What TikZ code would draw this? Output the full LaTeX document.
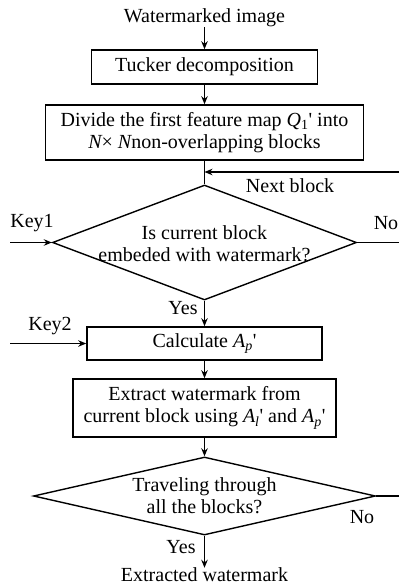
\documentclass[tikz,border=0pt]{standalone}
\usepackage{fontspec}
\setmainfont{Liberation Serif}
\newfontfamily\plainserif{Liberation Serif}
\usetikzlibrary{arrows.meta,shapes.geometric}
\newcommand{\prm}{{\plainserif'}}
\newcommand{\Qone}{{\itshape Q}\textsubscript{1}\prm}
\newcommand{\Al}{{\itshape A}\textsubscript{\itshape l}\prm}
\newcommand{\Ap}{{\itshape A}\textsubscript{\itshape p}\prm}
\begin{document}
\begin{tikzpicture}[x=1pt,y=-1pt,
  font=\fontsize{20}{22}\selectfont,
  box/.style={draw,line width=1.6pt,inner sep=0pt,align=center},
  dia/.style={draw,diamond,line width=1.4pt,inner sep=0pt},
  lbl/.style={inner sep=0pt,align=center},
  conn/.style={line width=1.3pt},
  arr/.style={conn,-{Stealth[length=8pt,width=6.5pt]}},
]
\useasboundingbox (0,0) rectangle (399,586);

\node[lbl] (in) at (204.5,18) {Watermarked image};
\node[box,minimum width=226pt,minimum height=34pt] (tucker) at (204.5,67) {Tucker decomposition};
\node[box,minimum width=318pt,minimum height=55pt] (divide) at (204.5,132.5)
  {Divide the first feature map \Qone{} into\\{\itshape N}\texttimes{} {\itshape N}non-overlapping blocks};
\node[dia,minimum width=304pt,minimum height=115pt] (d1) at (204.5,242.5) {};
\node[lbl] (d1t) at (204.5,243.5) {Is current block\\embeded with watermark?};
\node[box,minimum width=235pt,minimum height=33pt] (calc) at (204.5,343.5) {Calculate \Ap};
\node[box,minimum width=263pt,minimum height=58pt] (extract) at (204.5,408)
  {Extract watermark from\\current block using \Al{} and \Ap};
\node[dia,minimum width=342pt,minimum height=78pt] (d2) at (204.5,496) {};
\node[lbl] (d2t) at (204.5,496) {Traveling through\\all the blocks?};
\node[lbl] (out) at (204.5,575) {Extracted watermark};

\node[lbl] (key1) at (32,223) {Key1};
\node[lbl] (no1) at (386,223) {No};
\node[lbl] (next) at (290,186) {Next block};
\node[lbl] (yes1) at (183,308) {Yes};
\node[lbl] (key2) at (50,326) {Key2};
\node[lbl] (no2) at (362,517) {No};
\node[lbl] (yes2) at (181,547) {Yes};

\coordinate (k1) at (10,242.5);
\coordinate (r1) at (399,242.5);
\coordinate (nb) at (399,172);
\coordinate (j) at (204.5,172);
\coordinate (k2) at (10,343.5);
\coordinate (r2) at (399,496);

\draw[arr] (in) -- (tucker);
\draw[arr] (tucker) -- (divide);
\draw[conn] (divide) -- (d1.north);
\draw[arr] (nb) -- (j);
\draw[arr] (k1) -- (d1.west);
\draw[conn] (d1.east) -- (r1);
\draw[arr] (d1.south) -- (calc);
\draw[arr] (k2) -- (calc.west);
\draw[arr] (calc) -- (extract);
\draw[arr] (extract) -- (d2.north);
\draw[conn] (d2.east) -- (r2);
\draw[arr] (d2.south) -- (out);
\end{tikzpicture}
\end{document}
